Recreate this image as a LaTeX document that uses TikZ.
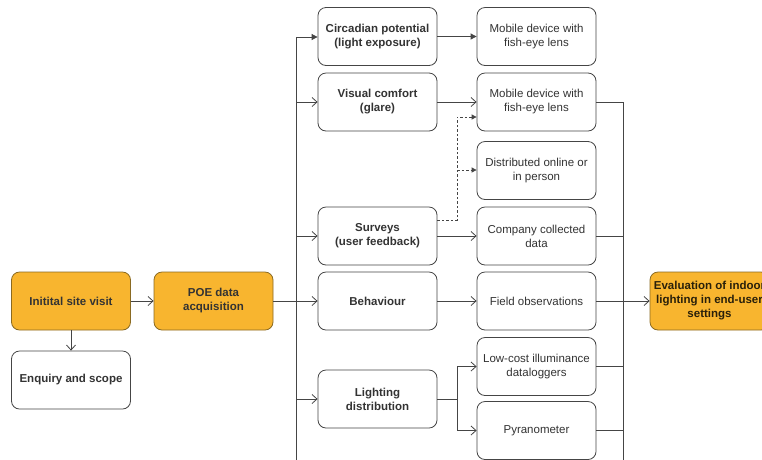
\documentclass[tikz,border=0pt]{standalone}
\usepackage{fontspec}
\setmainfont{Liberation Sans}
\usetikzlibrary{arrows.meta}
\definecolor{orfill}{HTML}{F8B52F}
\definecolor{ordraw}{HTML}{8A6A22}
\definecolor{linec}{HTML}{454545}
\definecolor{txt}{HTML}{333333}
\begin{document}
\begin{tikzpicture}[x=1pt,y=-1pt,
  box/.style={draw=linec,line width=0.8pt,rounded corners=8pt,minimum width=119pt,minimum height=58pt,
    align=center,font=\fontsize{11.5}{14}\selectfont,text=txt,inner sep=2pt},
  boldbox/.style={box,font=\fontsize{11.5}{14}\selectfont\bfseries},
  orbox/.style={boldbox,fill=orfill,draw=ordraw},
  conn/.style={draw=linec,line width=0.8pt},
  openarr/.style={conn,-{Straight Barb[length=5pt,width=9pt,line width=0.8pt]}},
  fillarr/.style={conn,-{Triangle[length=6pt,width=6pt]}},
  dasharr/.style={conn,dashed,dash pattern=on 2.5pt off 2pt,-{Triangle[length=5pt,width=5pt]}}
]
\useasboundingbox (0,0) rectangle (762,459);
\clip (0,0) rectangle (762,459);
\fill[white] (0,0) rectangle (762,459);

% left nodes
\node[orbox] (isv) at (71,301) {Initital site visit};
\node[boldbox] (enq) at (71,380) {Enquiry and scope};
\node[orbox] (poe) at (213.5,301) {POE data\\acquisition};

% column 1
\node[boldbox] (circ) at (377.5,36.5) {Circadian potential\\(light exposure)};
\node[boldbox] (vis) at (377.5,102) {Visual comfort\\(glare)};
\node[boldbox] (surv) at (377.5,236) {Surveys\\(user feedback)};
\node[boldbox] (beh) at (377.5,301) {Behaviour};
\node[boldbox] (ld) at (377.5,399) {Lighting\\distribution};

% column 2
\node[box] (mob1) at (536.5,36.5) {Mobile device with\\fish-eye lens};
\node[box] (mob2) at (536.5,102) {Mobile device with\\fish-eye lens};
\node[box] (dist) at (536.5,170.5) {Distributed online or\\in person};
\node[box] (comp) at (536.5,236) {Company collected\\data};
\node[box] (field) at (536.5,301) {Field observations};
\node[box] (low) at (536.5,366.5) {Low-cost illuminance\\dataloggers};
\node[box] (pyr) at (536.5,430.5) {Pyranometer};

% evaluation
\node[orbox,text=black!70!ordraw] (eval) at (709.5,301) {Evaluation of indoor\\lighting in end-user\\settings};

% coordinates
\coordinate (bT) at (296,37);
\coordinate (bB) at (296,470);
\coordinate (rT) at (623,102);
\coordinate (rB) at (623,470);
\coordinate (dj) at (457,220);
\coordinate (dA) at (457,117);
\coordinate (dB) at (457,170);
\coordinate (lj) at (457,399);

% left connectors
\draw[openarr] (isv) -- (poe);
\draw[openarr] (isv) -- (enq);
\draw[conn] (poe.east) -- (poe.east -| bT);
\draw[conn] (bT) -- (bB);

% bus to column 1
\draw[fillarr] (bT) -- (circ.west |- bT);
\draw[openarr] (vis.west -| bT) -- (vis.west);
\draw[openarr] (surv.west -| bT) -- (surv.west);
\draw[openarr] (beh.west -| bT) -- (beh.west);
\draw[openarr] (ld.west -| bT) -- (ld.west);

% column 1 to column 2
\draw[fillarr] (circ) -- (mob1);
\draw[openarr] (vis) -- (mob2);
\draw[openarr] (surv) -- (comp);
\draw[openarr] (beh) -- (field);
\draw[conn] (ld.east) -- (lj);
\draw[openarr] (lj) |- (low.west);
\draw[openarr] (lj) |- (pyr.west);

% dashed
\draw[dasharr] (surv.east |- dj) -- (dj) -- (dA) -- (mob2.west |- dA);
\draw[dasharr] (dB) -- (dist.west |- dB);

% right bus
\draw[conn] (rT) -- (rB);
\draw[conn] (mob2.east) -- (mob2.east -| rT);
\draw[conn] (comp.east) -- (comp.east -| rT);
\draw[conn] (low.east) -- (low.east -| rT);
\draw[conn] (pyr.east) -- (pyr.east -| rT);
\draw[openarr] (field) -- (eval);
\end{tikzpicture}
\end{document}
